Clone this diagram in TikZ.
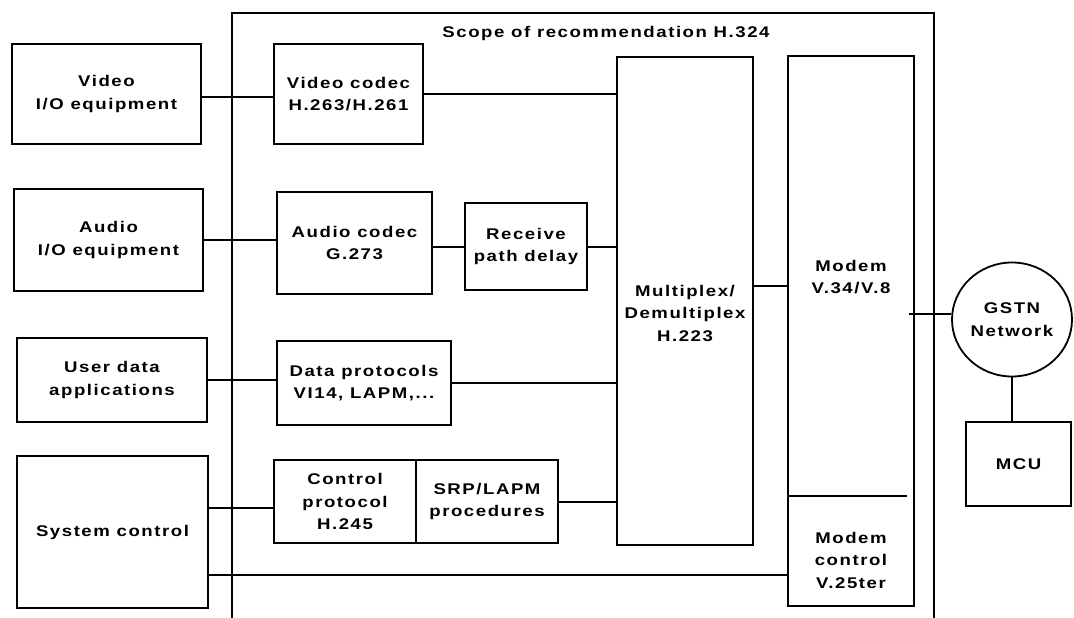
\documentclass[tikz,border=0pt]{standalone}
\usepackage{fontspec}
\setmainfont{Liberation Sans}[BoldFont={* Bold}]
\newfontfamily\diafont{Liberation Sans Bold}[FakeStretch=1.2,LetterSpace=10]
\usetikzlibrary{shapes.geometric}
\tikzset{
  box/.style={draw, line width=1.8pt, rectangle, inner sep=0pt, align=center, font=\diafont\fontsize{15.5}{22.5}\selectfont},
  lbl/.style={inner sep=0pt, align=center, font=\diafont\fontsize{15.5}{22.5}\selectfont},
  conn/.style={line width=2pt},
}
\begin{document}
\begin{tikzpicture}[x=1pt,y=-1pt]
\useasboundingbox (0,0) rectangle (1074,618);
% scope frame
\coordinate (scbl) at (232,618);
\coordinate (sctl) at (232,13);
\coordinate (sctr) at (934,13);
\coordinate (scbr) at (934,618);
\draw[conn] (scbl) -- (sctl) -- (sctr) -- (scbr);
\node[lbl] (scope) at (606,33) {Scope of recommendation H.324};
% left column
\node[box, minimum width=189pt, minimum height=100pt] (vio) at (106.5,94) {Video\\I/O equipment};
\node[box, minimum width=189pt, minimum height=102pt] (aio) at (108.5,240) {Audio\\I/O equipment};
\node[box, minimum width=190pt, minimum height=84pt] (user) at (112,380) {User data\\applications};
\node[box, minimum width=191pt, minimum height=152pt] (sys) at (112.5,532) {System control};
% inner blocks
\node[box, minimum width=149pt, minimum height=100pt] (vcodec) at (348.5,94) {Video codec\\H.263/H.261};
\node[box, minimum width=155pt, minimum height=102pt] (acodec) at (354.5,243) {Audio codec\\G.273};
\node[box, minimum width=122pt, minimum height=87pt] (rpd) at (526,246.5) {Receive\\path delay};
\node[box, minimum width=174pt, minimum height=84pt] (dproto) at (364,383) {Data protocols\\VI14, LAPM,...};
\node[box, minimum width=142pt, minimum height=83pt] (ctrl) at (345,501.5) {Control\\protocol\\H.245};
\node[box, minimum width=142pt, minimum height=83pt] (srp) at (487,501.5) {SRP/LAPM\\procedures};
\node[box, minimum width=136pt, minimum height=488pt] (mux) at (685,301) {};
\node[lbl] (muxtext) at (685,313) {Multiplex/\\Demultiplex\\H.223};
\node[box, minimum width=126pt, minimum height=550pt] (modemall) at (851,331) {};
\node[lbl, minimum width=126pt, minimum height=440pt] (modem) at (851,277) {Modem\\V.34/V.8};
\node[lbl, minimum width=126pt, minimum height=110pt] (modemctl) at (851,551) {};
\node[lbl] (modemctltext) at (851,560) {Modem\\control\\V.25ter};
\draw[conn] (modemctl.north west) -- ([xshift=-7pt]modemctl.north east);
% outside
\node[box, ellipse, minimum width=120pt, minimum height=114pt] (gstn) at (1012,319.5) {GSTN\\Network};
\node[box, minimum width=105pt, minimum height=84pt] (mcu) at (1018.5,464) {MCU};
% connectors
\draw[conn] ([yshift=-3pt]vio.east) -- ([yshift=-3pt]vio.east -| vcodec.west);
\draw[conn] (vcodec.east) -- (vcodec.east -| mux.west);
\draw[conn] (aio.east) -- (aio.east -| acodec.west);
\draw[conn] (rpd.west -| acodec.east) -- (rpd.west);
\draw[conn] (rpd.east) -- (rpd.east -| mux.west);
\draw[conn] ([yshift=15pt]mux.east) -- ([yshift=15pt]mux.east -| modemall.west);
\draw[conn] (user.east) -- (user.east -| dproto.west);
\draw[conn] (dproto.east) -- (dproto.east -| mux.west);
\draw[conn] ([yshift=-6pt]ctrl.west -| sys.east) -- ([yshift=-6pt]ctrl.west);
\draw[conn] (srp.east) -- (srp.east -| mux.west);
\draw[conn] ([yshift=-43pt]sys.east) -- ([yshift=-43pt]sys.east -| modemall.west);
\draw[conn] ([xshift=-6pt]gstn.175 -| modemall.east) -- (gstn.175);
\draw[conn] (gstn.south) -- (gstn.south |- mcu.north);
\end{tikzpicture}
\end{document}
